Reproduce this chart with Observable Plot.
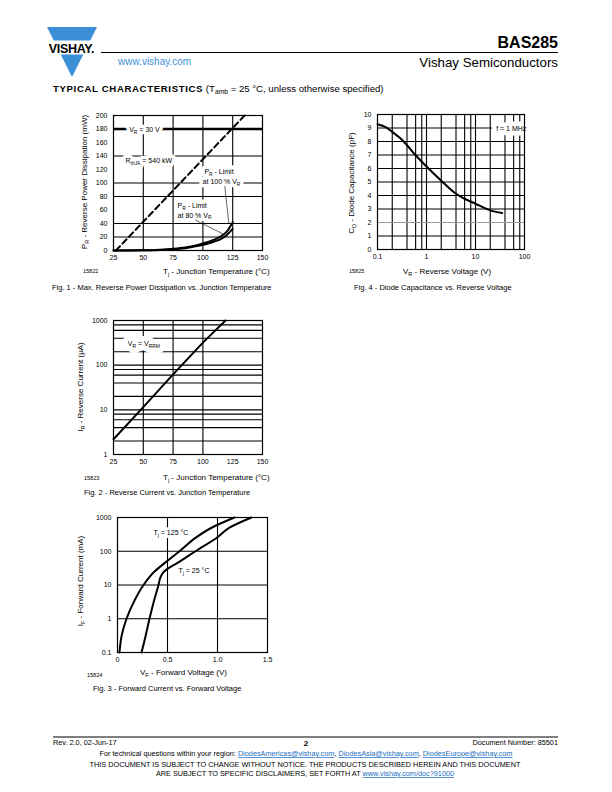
<!DOCTYPE html>
<html><head><meta charset="utf-8">
<script src="https://cdn.jsdelivr.net/npm/d3@7"></script>
<script src="https://cdn.jsdelivr.net/npm/@observablehq/plot@0.6"></script>
<style>
body{margin:0;width:612px;height:792px;position:relative;background:#fff;overflow:hidden;font-family:"Liberation Sans",Arial,sans-serif}
.chart{position:absolute}
#page{position:absolute;left:0;top:0}
</style></head><body>
<svg id="page" width="612" height="792" font-family="Liberation Sans, Arial, sans-serif"></svg>
<div id="f1" class="chart" style="left:60px;top:105px"></div>
<div id="f4" class="chart" style="left:330px;top:105px"></div>
<div id="f2" class="chart" style="left:60px;top:310px"></div>
<div id="f3" class="chart" style="left:60px;top:505px"></div>
<script>
// ---------- Fig. 1 data ----------
const fig1TempTicks = [25, 50, 75, 100, 125, 150];
const fig1PowerTicks = [0, 20, 40, 60, 80, 100, 120, 140, 160, 180, 200];
const fig1GridT = [50, 75, 100, 125];
const fig1GridP = [20, 40, 80, 100, 140];
const fig1VrLevel = [180];
const fig1LimitT = [25, 50, 60, 75, 85, 95, 105, 110, 115, 120, 125];
const fig1Limit100P = [0, 0.3, 0.8, 2.5, 4.5, 8, 13, 16.5, 21, 28, 42];
const fig1Limit80P = [0, 0.2, 0.5, 1.8, 3.5, 6.5, 10.5, 13.5, 17, 23, 32];
const fig1RthT = [27, 135];
const fig1RthP = [0, 200];

// ---------- Fig. 4 data ----------
const fig4VrTicks = [0.1, 1, 10, 100];
const fig4CdTicks = [0, 1, 2, 3, 4, 5, 6, 7, 8, 9, 10];
const fig4Vr = [0.1, 0.15, 0.2, 0.3, 0.4, 0.6, 1, 2, 4, 6, 10, 20, 35];
const fig4Cd = [9.28, 9.05, 8.71, 8.2, 7.72, 6.98, 6.15, 5.1, 4.13, 3.76, 3.39, 2.9, 2.7];

// ---------- Fig. 2 data ----------
const fig2TempTicks = [25, 50, 75, 100, 125, 150];
const fig2GridT = [50, 75, 100];
const fig2IrTicks = [1, 10, 100, 1000];
const fig2Tj = [25, 50, 75, 100, 119];
const fig2Ir = [2.2, 11.5, 62, 320, 1000];

// ---------- Fig. 3 data ----------
const fig3VfTicks = [0, 0.5, 1.0, 1.5];
const fig3IfTicks = [0.1, 1, 10, 100, 1000];
const fig3Vf125 = [0.02, 0.04, 0.09, 0.16, 0.26, 0.37, 0.5, 0.62, 0.78, 0.97, 1.17];
const fig3If125 = [0.1, 0.3, 1, 3, 10, 25, 52, 100, 250, 550, 1000];
const fig3Vf25 = [0.24, 0.28, 0.32, 0.36, 0.41, 0.43, 0.46, 0.5, 0.6, 0.78, 1.0, 1.12, 1.34];
const fig3If25 = [0.1, 0.3, 1, 3, 10, 17, 24, 30, 45, 100, 260, 500, 1000];

const FONT = "Liberation Sans, Arial, sans-serif";
const NS = "http://www.w3.org/2000/svg";
const zip = (xs, ys) => xs.map((x, i) => ({x, y: ys[i]}));
const logGrid = (lo, hi) => { const g = []; for (let d = lo; d < hi; d *= 10) for (const m of [2, 4, 6, 8, 10]) g.push(d * m); return g.filter(v => v < hi * 0.999); };

function applySubs(root) {
  root.querySelectorAll("text").forEach(t => {
    const s = t.textContent;
    if (!s.includes("_{")) return;
    t.textContent = "";
    let shifted = false;
    for (const p of s.split(/(_\{[^}]*\})/)) {
      if (!p) continue;
      const ts = document.createElementNS(NS, "tspan");
      if (p.startsWith("_{")) { ts.textContent = p.slice(2, -1); ts.setAttribute("font-size", "70%"); ts.setAttribute("dy", "1.8"); shifted = true; }
      else { ts.textContent = p; if (shifted) { ts.setAttribute("dy", "-1.8"); shifted = false; } }
      t.appendChild(ts);
    }
  });
}
const style = {fontFamily: FONT, fontSize: "7px", color: "#000", background: "transparent", overflow: "visible"};
// label with a white box behind it: a white halo layer, then the black text on top
function boxed(data, w, extra = {}) {
  const base = {x: "x", y: "y", text: "t", fontSize: 7, fontFamily: FONT, ...extra};
  return [
    Plot.text(data, {...base, fill: "#fff", stroke: "#fff", strokeWidth: w}),
    Plot.text(data, {...base, fill: "#000"})
  ];
}

// ---------- Fig. 1 ----------
const fig1 = Plot.plot({
  width: 220, height: 170, marginLeft: 53, marginRight: 18, marginTop: 10, marginBottom: 25, style,
  x: {domain: [25, 150], ticks: fig1TempTicks, tickSize: 0, tickPadding: 5, label: null},
  y: {domain: [0, 200], ticks: fig1PowerTicks, tickSize: 0, tickPadding: 6, label: null},
  marks: [
    Plot.ruleX(fig1GridT, {stroke: "#000", strokeWidth: 1.1}),
    Plot.ruleY(fig1GridP, {stroke: "#000", strokeWidth: 1.1}),
    Plot.ruleY(fig1VrLevel, {stroke: "#000", strokeWidth: 2.6}),
    Plot.line(zip(fig1RthT, fig1RthP), {x: "x", y: "y", stroke: "#000", strokeWidth: 2, strokeDasharray: "6,3.5"}),
    ...boxed([{x: 51, y: 179, t: "V_{R} = 30 V"}, {x: 54.6, y: 133, t: "R_{thJA} = 540 kW"},
              {x: 113.5, y: 116, t: "P_{R} - Limit"}, {x: 115.6, y: 102, t: "at 100 % V_{R}"},
              {x: 91, y: 66.7, t: "P_{R} - Limit"}, {x: 93, y: 52, t: "at 80 % V_{R}"}], 7),
    Plot.line(zip([118.4, 121.7], [95, 41]), {x: "x", y: "y", stroke: "#000", strokeWidth: 0.6}),
    Plot.line(zip([93.8, 116.7], [45, 24.7]), {x: "x", y: "y", stroke: "#000", strokeWidth: 0.6}),
    Plot.line(zip(fig1LimitT, fig1Limit100P), {x: "x", y: "y", stroke: "#000", strokeWidth: 2, curve: "monotone-x"}),
    Plot.line(zip(fig1LimitT, fig1Limit80P), {x: "x", y: "y", stroke: "#000", strokeWidth: 2, curve: "monotone-x"}),
    Plot.frame({stroke: "#000", strokeWidth: 1.2})
  ]
});
document.getElementById("f1").append(fig1);

// ---------- Fig. 4 ----------
const fig4 = Plot.plot({
  width: 220, height: 170, marginLeft: 47, marginRight: 26, marginTop: 9, marginBottom: 26, style,
  x: {type: "log", domain: [0.1, 100], ticks: fig4VrTicks, tickFormat: d => String(d), tickSize: 0, tickPadding: 5, label: null},
  y: {domain: [0, 10], ticks: fig4CdTicks, tickSize: 0, tickPadding: 6, label: null},
  marks: [
    Plot.ruleX(logGrid(0.1, 100), {stroke: "#000", strokeWidth: 1.1}),
    Plot.ruleY(fig4CdTicks.filter(v => v > 0 && v < 10 && v !== 2), {stroke: "#000", strokeWidth: 1.1}),
    Plot.ruleY([2], {stroke: "#999", strokeWidth: 1.1}),
    Plot.line(zip(fig4Vr, fig4Cd), {x: "x", y: "y", stroke: "#000", strokeWidth: 2, curve: "monotone-x"}),
    ...boxed([{x: 53.6, y: 8.96, t: "f = 1 MHz"}], 9),
    Plot.frame({stroke: "#000", strokeWidth: 1.2})
  ]
});
document.getElementById("f4").append(fig4);

// ---------- Fig. 2 ----------
const fig2 = Plot.plot({
  width: 220, height: 170, marginLeft: 53, marginRight: 18, marginTop: 10, marginBottom: 26, style,
  x: {domain: [25, 150], ticks: fig2TempTicks, tickSize: 0, tickPadding: 5, label: null},
  y: {type: "log", domain: [1, 1000], ticks: fig2IrTicks, tickFormat: d => String(d), tickSize: 0, tickPadding: 6, label: null},
  marks: [
    Plot.ruleX(fig2GridT, {stroke: "#000", strokeWidth: 1.1}),
    Plot.ruleY(logGrid(1, 1000), {stroke: "#000", strokeWidth: 1.1}),
    Plot.line(zip(fig2Tj, fig2Ir), {x: "x", y: "y", stroke: "#000", strokeWidth: 2}),
    ...boxed([{x: 50.4, y: 305, t: "V_{R} = V_{RRM}"}], 10),
    Plot.frame({stroke: "#000", strokeWidth: 1.2})
  ]
});
document.getElementById("f2").append(fig2);

// ---------- Fig. 3 ----------
const fig3 = Plot.plot({
  width: 220, height: 170, marginLeft: 57, marginRight: 13, marginTop: 12, marginBottom: 23, style,
  x: {domain: [0, 1.5], ticks: fig3VfTicks, tickFormat: d => d === 0 ? "0" : d.toFixed(1), tickSize: 0, tickPadding: 5, label: null},
  y: {type: "log", domain: [0.1, 1000], ticks: fig3IfTicks, tickFormat: d => String(d), tickSize: 0, tickPadding: 6, label: null},
  marks: [
    Plot.ruleX([0.5, 1.0], {stroke: "#000", strokeWidth: 1.1}),
    Plot.ruleY([1, 10, 100], {stroke: "#000", strokeWidth: 1.1}),
    Plot.line(zip(fig3Vf125, fig3If125), {x: "x", y: "y", stroke: "#000", strokeWidth: 2, curve: "monotone-y"}),
    Plot.line(zip(fig3Vf25, fig3If25), {x: "x", y: "y", stroke: "#000", strokeWidth: 2, curve: "monotone-y"}),
    ...boxed([{x: 0.36, y: 360, t: "T_{j} = 125 °C"}, {x: 0.61, y: 26, t: "T_{j} = 25 °C"}], 6, {textAnchor: "start"}),
    Plot.frame({stroke: "#000", strokeWidth: 1.2})
  ]
});
document.getElementById("f3").append(fig3);

document.querySelectorAll(".chart svg").forEach(applySubs);

// ---------- page texts ----------
const page = document.getElementById("page");
function txt(x, y, s, opts = {}) {
  const t = document.createElementNS(NS, "text");
  t.setAttribute("x", x); t.setAttribute("y", y);
  t.setAttribute("font-size", opts.size || 7.5);
  if (opts.anchor) t.setAttribute("text-anchor", opts.anchor);
  if (opts.weight) t.setAttribute("font-weight", opts.weight);
  if (opts.fill) t.setAttribute("fill", opts.fill);
  if (opts.rotate) { t.setAttribute("transform", `rotate(-90 ${x} ${y})`); }
  if (opts.spacing) t.setAttribute("letter-spacing", opts.spacing);
  t.textContent = s;
  page.appendChild(t);
  return t;
}
function line(x1, y1, x2, y2, w) {
  const l = document.createElementNS(NS, "line");
  l.setAttribute("x1", x1); l.setAttribute("y1", y1); l.setAttribute("x2", x2); l.setAttribute("y2", y2);
  l.setAttribute("stroke", "#000"); l.setAttribute("stroke-width", w);
  page.appendChild(l);
}
// logo
const logo = document.createElementNS(NS, "g");
logo.innerHTML = `<polygon points="47,27 97,27 72,77" fill="#3b8fd6"/><rect x="44" y="40.5" width="56" height="14" fill="#fff"/>`;
page.appendChild(logo);
txt(71.5, 52.5, "VISHAY.", {size: 12.5, anchor: "middle", weight: "bold", spacing: -0.3});
line(101, 52.5, 558, 52.5, 1.1);
txt(558, 48, "BAS285", {size: 16, anchor: "end", weight: "bold"});
txt(118, 64.5, "www.vishay.com", {size: 10, fill: "#3b8fd6"});
txt(558, 67, "Vishay Semiconductors", {size: 13.3, anchor: "end"});
const tc = txt(53, 92, "", {size: 9.6});
tc.innerHTML = `<tspan font-weight="900" letter-spacing="0.65">TYPICAL CHARACTERISTICS</tspan><tspan> (T</tspan><tspan font-size="70%" dy="2">amb</tspan><tspan dy="-2"> = 25 °C, unless otherwise specified)</tspan>`;

// axis labels
txt(87, 182, "P_{R} - Reverse Power Dissipation (mW)", {size: 8, anchor: "middle", rotate: true});
txt(163, 274, "T_{j} - Junction Temperature (°C)", {size: 8});
txt(83, 273, "15822", {size: 5.5});
txt(52, 290, "Fig. 1 - Max. Reverse Power Dissipation vs. Junction Temperature", {size: 7.5});

txt(354, 183, "C_{D} - Diode Capacitance (pF)", {size: 8, anchor: "middle", rotate: true});
txt(403, 274, "V_{R} - Reverse Voltage (V)", {size: 8});
txt(349, 273, "15825", {size: 5.5});
txt(354, 290, "Fig. 4 - Diode Capacitance vs. Reverse Voltage", {size: 7.5});

txt(83, 387, "I_{R} - Reverse Current (µA)", {size: 8, anchor: "middle", rotate: true});
txt(163, 480, "T_{j} - Junction Temperature (°C)", {size: 8});
txt(84, 480, "15823", {size: 5.5});
txt(84, 495, "Fig. 2 - Reverse Current vs. Junction Temperature", {size: 7.5});

txt(83, 581, "I_{F} - Forward Current (mA)", {size: 8, anchor: "middle", rotate: true});
txt(140, 675, "V_{F} - Forward Voltage (V)", {size: 8});
txt(87, 677, "15824", {size: 5.5});
txt(93, 691, "Fig. 3 - Forward Current vs. Forward Voltage", {size: 7.5});

// footer
line(53, 737, 558, 737, 1);
txt(53, 745, "Rev. 2.0, 02-Jun-17", {size: 7.3});
txt(306, 745.5, "2", {size: 8, anchor: "middle", weight: "bold"});
txt(558, 745, "Document Number: 85501", {size: 7.3, anchor: "end"});
const q = txt(306, 756, "", {size: 7.3, anchor: "middle"});
q.innerHTML = `For technical questions within your region: <tspan fill="#1a6fc4" text-decoration="underline">DiodesAmericas@vishay.com</tspan>, <tspan fill="#1a6fc4" text-decoration="underline">DiodesAsia@vishay.com</tspan>, <tspan fill="#1a6fc4" text-decoration="underline">DiodesEurope@vishay.com</tspan>`;
txt(305, 767, "THIS DOCUMENT IS SUBJECT TO CHANGE WITHOUT NOTICE. THE PRODUCTS DESCRIBED HEREIN AND THIS DOCUMENT", {size: 7.3, anchor: "middle"});
const d2 = txt(305, 776, "", {size: 7.3, anchor: "middle"});
d2.innerHTML = `ARE SUBJECT TO SPECIFIC DISCLAIMERS, SET FORTH AT <tspan fill="#1a6fc4" text-decoration="underline">www.vishay.com/doc?91000</tspan>`;
applySubs(page);
</script>
</body></html>
